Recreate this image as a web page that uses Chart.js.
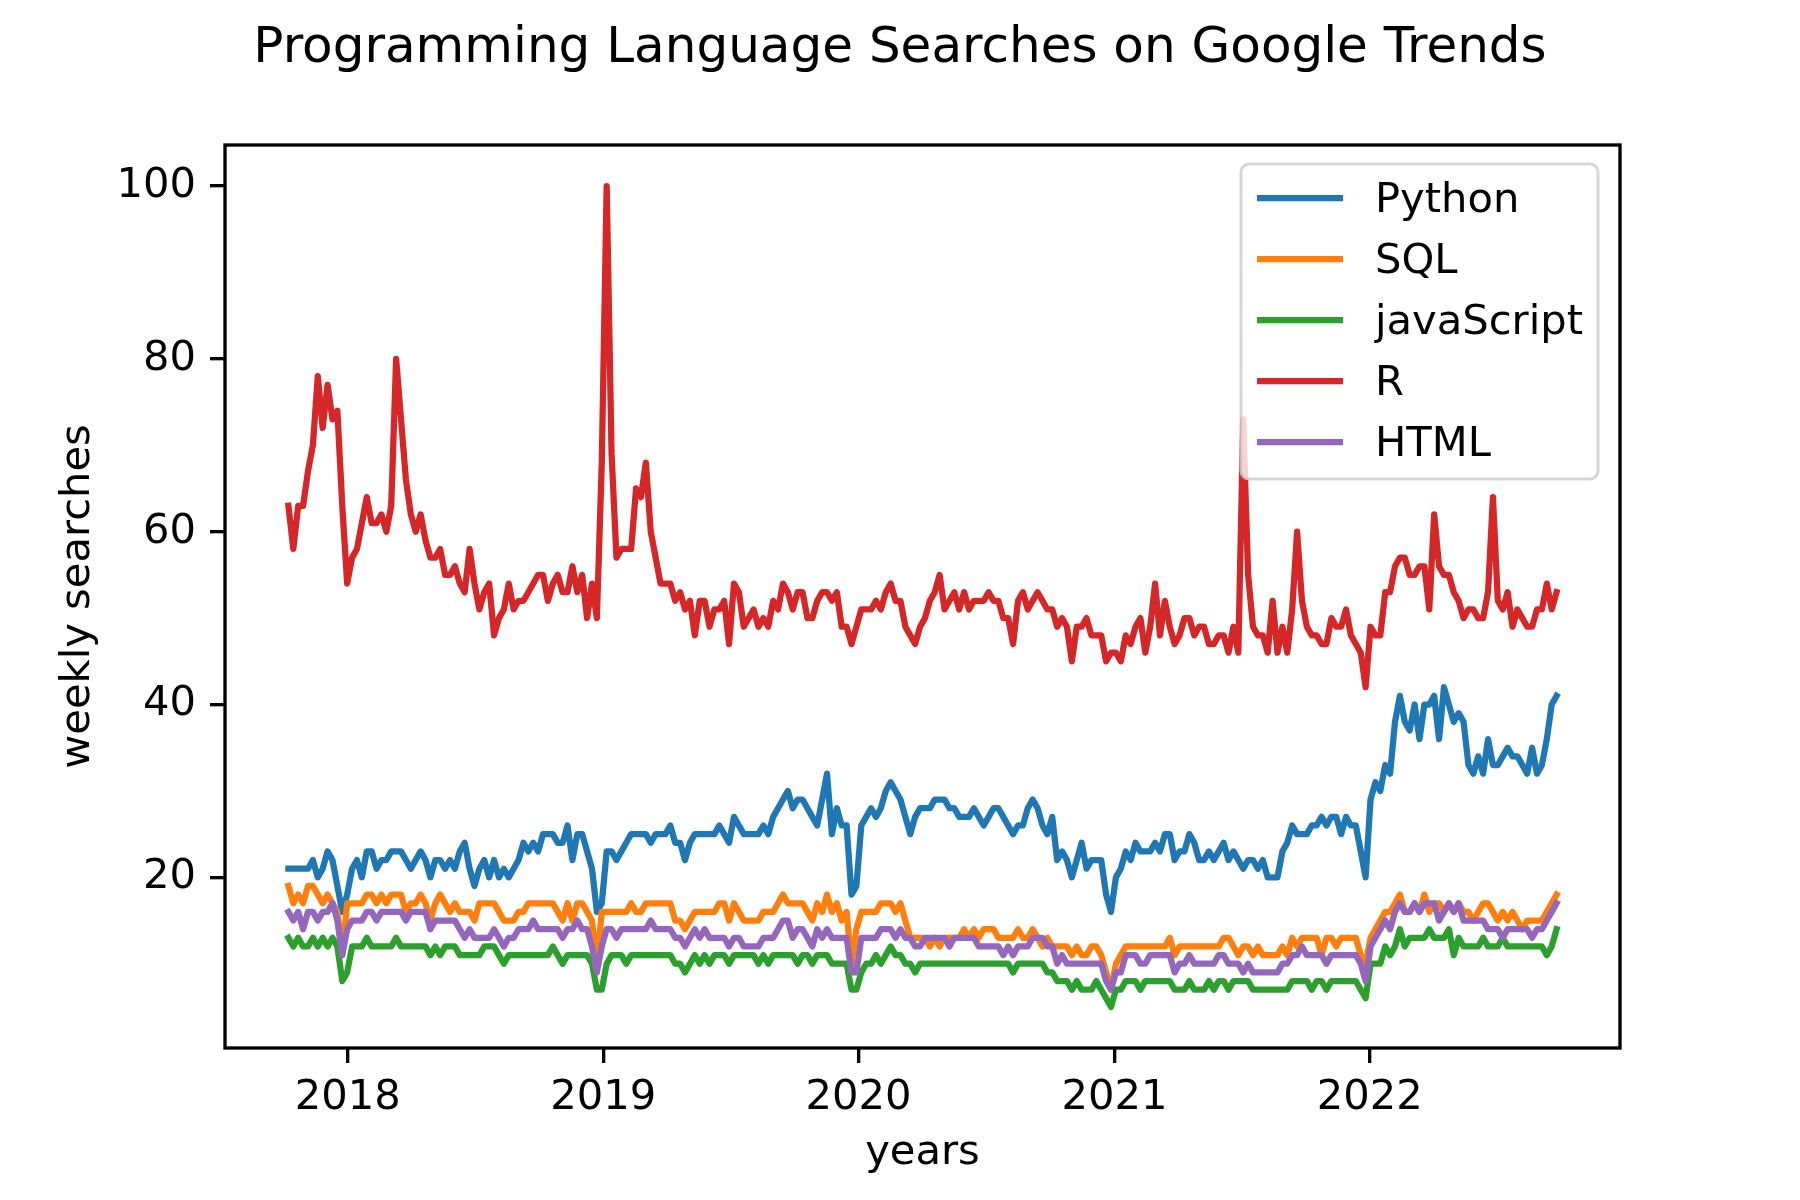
<!DOCTYPE html>
<html>
<head>
<meta charset="utf-8">
<title>Programming Language Searches on Google Trends</title>
<script src="https://cdn.jsdelivr.net/npm/chart.js@4.4.1/dist/chart.umd.min.js"></script>
<style>
  html, body { margin: 0; padding: 0; background: #fff; }
  canvas { display: block; }
</style>
</head>
<body>
<canvas id="trends" width="1800" height="1200"></canvas>
<script>
// ── DATA ────────────────────────────────────────────────────────────────────
// Weekly Google Trends interest, one value per week starting at FIRST_WEEK.
const FIRST_WEEK = Date.UTC(2017, 9, 8);

const python = [
  21,21,21,21,21,22,20,21,23,22,19,16,18,21,22,20,23,23,21,22,22,23,23,23,22,21,22,23,22,20,22,22,21,22,21,23,24,21,19,21,22,20,
  22,20,21,20,21,22,24,23,24,23,25,25,25,24,24,26,22,25,25,23,21,16,17,23,23,22,23,24,25,25,25,25,24,25,25,25,26,24,24,22,24,25,
  25,25,25,25,26,25,24,27,26,25,25,25,25,26,25,27,28,29,30,28,29,29,28,27,26,29,32,25,28,26,26,18,19,26,27,28,27,28,30,31,30,29,27,
  25,27,28,28,28,29,29,29,28,28,27,27,27,28,27,26,27,28,28,27,26,25,26,26,28,29,28,26,25,27,22,23,22,20,22,24,21,22,22,22,18,16,20,
  21,23,22,24,23,23,23,24,23,25,25,22,23,23,25,24,22,22,23,22,23,24,22,23,22,21,22,22,21,22,20,20,20,23,24,26,25,25,25,26,26,27,
  26,27,27,25,27,26,26,23,20,29,31,30,33,32,38,41,38,37,40,36,40,40,41,36,42,40,38,39,38,33,32,34,32,36,33,33,34,35,34,34,33,32,35,32,33,36,40,41
];

const sql = [
  19,17,18,17,19,19,18,17,18,17,16,11,17,17,17,17,18,18,17,18,17,18,18,18,16,17,17,18,17,15,17,18,17,16,17,16,16,16,15,17,17,17,
  17,16,15,15,15,16,16,17,17,17,17,17,17,16,15,17,15,17,17,16,15,10,16,16,16,16,16,16,17,16,16,17,17,17,17,17,17,15,15,14,15,16,
  16,16,16,16,17,17,15,17,16,15,15,15,15,16,16,16,17,18,17,17,17,17,16,15,17,16,18,16,17,15,16,10,14,16,16,16,16,17,17,17,16,17,15,
  13,13,13,13,12,13,12,13,13,13,13,14,13,14,13,14,14,14,13,13,13,13,14,13,13,14,13,12,13,12,12,12,12,11,12,11,11,12,12,11,9,7,10,
  11,12,12,12,12,12,12,12,12,12,13,11,12,12,12,12,12,12,12,12,12,13,13,12,11,12,12,11,12,11,11,11,11,12,11,13,12,13,13,13,13,11,
  13,13,12,13,13,13,13,11,10,13,14,15,16,16,17,18,16,16,17,16,18,16,17,17,16,17,16,17,16,16,15,16,17,17,16,15,16,15,16,15,14,15,15,15,15,16,17,18
];

const javascript = [
  13,12,13,12,12,13,12,13,12,13,12,8,9,12,12,12,13,12,12,12,12,12,13,12,12,12,12,12,12,11,12,11,12,12,12,11,11,11,11,11,12,12,
  12,11,10,11,11,11,11,11,11,11,11,11,12,11,10,11,11,11,11,11,10,7,7,10,11,11,11,10,11,11,11,11,11,11,11,11,11,10,10,9,10,11,
  10,11,10,11,11,11,10,11,11,11,11,11,10,11,10,11,11,11,11,11,10,11,11,10,11,11,11,10,10,10,10,7,7,9,10,10,11,10,11,12,11,11,10,
  10,9,10,10,10,10,10,10,10,10,10,10,10,10,10,10,10,10,10,10,10,9,10,10,10,10,10,10,9,9,8,8,8,7,8,7,7,7,8,7,6,5,7,
  7,8,8,8,7,8,8,8,8,8,8,7,7,7,8,7,7,7,8,7,8,8,7,8,8,8,8,7,7,7,7,7,7,7,7,8,8,8,8,7,8,8,
  7,8,8,8,8,8,8,7,6,10,10,10,12,11,12,14,12,13,13,13,13,14,13,13,13,14,11,13,12,12,12,12,13,12,12,12,13,12,12,12,12,12,12,12,12,11,12,14
];

const r = [
  63,58,63,63,67,70,78,72,77,73,74,63,54,57,58,61,64,61,61,62,60,63,80,73,66,62,60,62,59,57,57,58,55,55,56,54,53,58,54,51,53,54,
  48,50,51,54,51,52,52,53,54,55,55,52,54,55,53,53,56,53,55,50,54,50,68,100,69,57,58,58,58,65,64,68,60,57,54,54,54,52,53,51,52,48,
  52,52,49,51,51,52,47,54,53,49,50,51,49,50,49,52,51,54,53,51,53,53,50,50,52,53,53,52,53,49,49,47,49,51,51,51,52,51,53,54,52,52,49,
  48,47,49,50,52,53,55,51,52,53,51,53,51,52,52,52,53,52,52,50,50,47,52,53,51,52,53,52,51,51,49,50,49,45,49,49,50,48,48,48,45,46,46,
  45,48,47,49,50,46,49,54,48,52,49,47,48,50,50,48,49,49,47,47,48,48,46,49,46,73,55,49,48,48,46,52,46,49,46,51,60,52,49,48,48,47,
  47,50,49,49,51,48,47,46,42,49,48,48,53,53,56,57,57,55,55,56,56,51,62,56,55,55,53,52,50,51,51,50,50,53,64,52,51,53,49,51,50,49,49,51,51,54,51,53
];

const html = [
  16,15,16,14,16,16,15,16,16,17,15,11,14,15,15,15,16,16,15,16,16,16,16,16,15,16,16,16,16,14,15,15,15,15,15,14,13,14,13,13,13,13,
  14,13,12,13,13,14,14,14,15,14,14,14,14,14,13,14,14,15,14,14,12,9,12,14,14,13,14,14,14,14,14,14,15,14,14,14,14,13,13,12,13,14,
  13,14,13,13,13,13,12,13,13,12,12,12,12,13,13,13,14,15,15,13,14,14,13,12,14,13,14,13,13,13,13,9,9,13,13,13,13,14,14,14,13,14,13,
  13,12,12,13,13,13,13,13,12,13,13,13,13,13,12,12,12,12,12,11,12,11,12,12,12,13,13,13,12,12,10,11,10,10,10,10,10,10,10,10,8,7,9,
  9,11,11,11,10,10,11,11,11,11,11,9,10,10,11,10,10,10,10,10,11,11,10,10,10,9,10,9,9,9,9,9,9,10,10,11,11,12,11,11,11,11,
  10,11,11,11,11,11,11,10,8,12,13,14,15,14,16,17,16,16,17,16,17,17,17,15,16,17,16,17,15,15,15,15,15,14,14,14,13,14,14,14,14,14,13,14,14,15,16,17
];

const seriesNames  = ['Python', 'SQL', 'javaScript', 'R', 'HTML'];
const seriesColors = ['#1f77b4', '#ff7f0e', '#2ca02c', '#d62728', '#9467bd'];
const yearTicks = [2018, 2019, 2020, 2021, 2022];
const yTicks = [20, 40, 60, 80, 100];

// ── HELPERS ─────────────────────────────────────────────────────────────────
const WEEK = 7 * 86400000;
const FONT = "'DejaVu Sans', 'Liberation Sans', sans-serif";
const FS = 41.67;            // 10pt at 300 dpi
const LW = 6.25;             // 1.5pt line
const TICK_W = 3.33;         // 0.8pt

const toPoints = (values) => values.map((v, i) => ({ x: FIRST_WEEK + i * WEEK, y: v }));

const firstX = FIRST_WEEK;
const lastX = FIRST_WEEK + (python.length - 1) * WEEK;
const xPad = (lastX - firstX) * 0.05;

const seriesValues = [python, sql, javascript, r, html];
const datasets = seriesValues.map((vals, k) => ({
  label: seriesNames[k],
  data: toPoints(vals),
  borderColor: seriesColors[k],
  backgroundColor: seriesColors[k],
  borderWidth: LW,
  borderJoinStyle: 'round',
  borderCapStyle: 'square',
  pointRadius: 0,
  tension: 0,
  fill: false,
  order: seriesValues.length - k,   // later series drawn on top, like matplotlib
}));

// ── PLUGINS ─────────────────────────────────────────────────────────────────
const figureTitle = {
  id: 'figureTitle',
  afterDraw(chart) {
    const ctx = chart.ctx;
    ctx.save();
    ctx.fillStyle = '#000';
    ctx.font = `50px ${FONT}`;
    ctx.textAlign = 'center';
    ctx.textBaseline = 'middle';
    ctx.fillText('Programming Language Searches on Google Trends', 900, 49);
    ctx.restore();
  }
};

const axesFrame = {
  id: 'axesFrame',
  afterDatasetsDraw(chart) {
    const { left, top, right, bottom } = chart.chartArea;
    const ctx = chart.ctx;
    ctx.save();
    ctx.strokeStyle = '#000';
    ctx.lineWidth = TICK_W;
    ctx.strokeRect(left, top, right - left, bottom - top);
    ctx.restore();
  }
};

const legendBox = {
  id: 'legendBox',
  afterDraw(chart) {
    const ctx = chart.ctx;
    const { right, top } = chart.chartArea;
    const w = 357, h = 315;
    const x0 = right - 22, y0 = top + 19;
    const bx = x0 - w;
    ctx.save();
    ctx.beginPath();
    ctx.roundRect(bx, y0, w, h, 8);
    ctx.fillStyle = 'rgba(255,255,255,0.8)';
    ctx.fill();
    ctx.strokeStyle = 'rgba(204,204,204,0.8)';
    ctx.lineWidth = 3;
    ctx.stroke();

    ctx.font = `${FS}px ${FONT}`;
    ctx.textBaseline = 'middle';
    ctx.textAlign = 'left';
    chart.data.datasets.forEach((ds, k) => {
      const cy = y0 + 34 + k * 61;
      ctx.beginPath();
      ctx.moveTo(bx + 16, cy);
      ctx.lineTo(bx + 102, cy);
      ctx.strokeStyle = ds.borderColor;
      ctx.lineWidth = LW;
      ctx.lineCap = 'butt';
      ctx.stroke();
      ctx.fillStyle = '#000';
      ctx.fillText(ds.label, bx + 134, cy + 3);
    });
    ctx.restore();
  }
};

// ── CHART ───────────────────────────────────────────────────────────────────
Chart.defaults.font.family = FONT;
Chart.defaults.color = '#000';

const tickGrid = {
  drawOnChartArea: false,
  drawTicks: true,
  tickLength: 15,
  lineWidth: TICK_W,
  tickWidth: TICK_W,
  color: '#000',
  tickColor: '#000',
};

new Chart(document.getElementById('trends'), {
  type: 'line',
  data: { datasets },
  plugins: [figureTitle, axesFrame, legendBox],
  options: {
    responsive: false,
    devicePixelRatio: 1,
    animation: false,
    layout: { padding: { top: 145, right: 180, left: 0, bottom: 0 } },
    plugins: {
      legend: { display: false },
      tooltip: { enabled: false },
      title: { display: false },
    },
    scales: {
      x: {
        type: 'linear',
        min: firstX - xPad,
        max: lastX + xPad,
        afterBuildTicks: (scale) => {
          scale.ticks = yearTicks.map(y => ({ value: Date.UTC(y, 0, 1) }));
        },
        afterFit: (scale) => { scale.height = 152; },
        ticks: {
          autoSkip: false,
          maxRotation: 0,
          padding: 10,
          font: { size: FS },
          color: '#000',
          callback: (v) => String(new Date(v).getUTCFullYear()),
        },
        grid: tickGrid,
        border: { display: false },
        title: {
          display: true,
          text: 'years',
          font: { size: FS },
          color: '#000',
          padding: { top: 0, bottom: 22 },
        },
      },
      y: {
        type: 'linear',
        min: 0.25,
        max: 104.75,
        afterBuildTicks: (scale) => {
          scale.ticks = yTicks.map(v => ({ value: v }));
        },
        afterFit: (scale) => { scale.width = 225; },
        ticks: {
          padding: 14,
          font: { size: FS },
          color: '#000',
          callback: (v) => String(v),
        },
        grid: tickGrid,
        border: { display: false },
        title: {
          display: true,
          text: 'weekly searches',
          font: { size: FS },
          color: '#000',
          padding: { top: 53, bottom: 0 },
        },
      },
    },
  },
});
</script>
</body>
</html>
